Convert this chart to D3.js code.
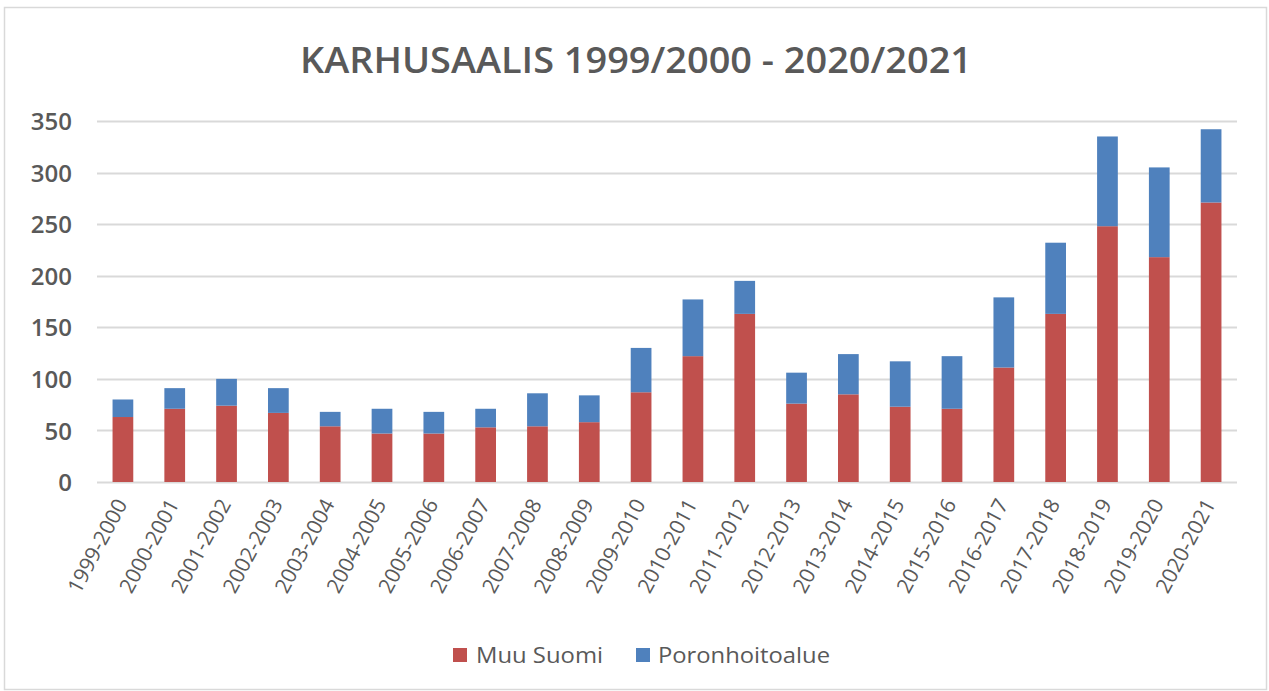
<!DOCTYPE html>
<html>
<head>
<meta charset="utf-8">
<script src="https://cdn.jsdelivr.net/npm/d3@7"></script>
<style>
  html, body { margin: 0; padding: 0; background: #ffffff; }
  svg { display: block; }
</style>
</head>
<body>
<svg id="chart" width="1269" height="691"></svg>
<script>
// ---- data ----
const categories = ["1999-2000","2000-2001","2001-2002","2002-2003","2003-2004","2004-2005","2005-2006","2006-2007","2007-2008","2008-2009","2009-2010","2010-2011","2011-2012","2012-2013","2013-2014","2014-2015","2015-2016","2016-2017","2017-2018","2018-2019","2019-2020","2020-2021"];
const muuSuomi      = [63, 71, 74, 67, 54, 47, 47, 53, 54, 58, 87, 122, 163, 76, 85, 73, 71, 111, 163, 248, 218, 271];
const poronhoitoalue = [17, 20, 26, 24, 14, 24, 21, 18, 32, 26, 43, 55, 32, 30, 39, 44, 51, 68, 69, 87, 87, 71];
const seriesNames = ["Muu Suomi", "Poronhoitoalue"];
const seriesColors = ["#C0504D", "#4F81BD"];
const yTicks = [0, 50, 100, 150, 200, 250, 300, 350];
const titleText = "KARHUSAALIS 1999/2000 - 2020/2021";

// ---- layout ----
const svg = d3.select("#chart");
const plot = { left: 97, right: 1237, top: 121, bottom: 482 };
const textColor = "#595959";
const font = "'Open Sans', 'Liberation Sans', Arial, sans-serif";

// border
svg.append("rect")
  .attr("x", 4.5).attr("y", 7.5).attr("width", 1262).attr("height", 682)
  .attr("fill", "#ffffff").attr("stroke", "#d9d9d9").attr("stroke-width", 1.5);

// title
svg.append("text")
  .attr("x", 636).attr("y", 73)
  .attr("text-anchor", "middle")
  .attr("font-family", font).attr("font-size", 36).attr("font-weight", 600)
  .attr("fill", textColor)
  .attr("textLength", 672).attr("lengthAdjust", "spacingAndGlyphs")
  .text(titleText);

// scales
const x = d3.scaleBand().domain(categories)
  .range([plot.left, plot.right]).paddingInner(0.6).paddingOuter(0.3);
const y = d3.scaleLinear().domain([0, 350]).range([plot.bottom, plot.top]);

// gridlines
svg.append("g").selectAll("line").data(yTicks).join("line")
  .attr("x1", plot.left).attr("x2", plot.right)
  .attr("y1", d => Math.round(y(d)) + 0.5).attr("y2", d => Math.round(y(d)) + 0.5)
  .attr("stroke", "#d9d9d9").attr("stroke-width", 2);

// y axis labels
const yAxis = d3.axisLeft(y).tickValues(yTicks).tickSize(0).tickPadding(0);
const yg = svg.append("g").attr("transform", `translate(72,0)`).call(yAxis);
yg.select(".domain").remove();
yg.selectAll("text")
  .attr("font-family", font).attr("font-size", 24).attr("font-weight", 600)
  .attr("fill", textColor).attr("dy", "0.36em");

// stacked bars
const table = categories.map((c, i) => ({ cat: c, [seriesNames[0]]: muuSuomi[i], [seriesNames[1]]: poronhoitoalue[i] }));
const stacked = d3.stack().keys(seriesNames)(table);
svg.append("g").selectAll("g").data(stacked).join("g")
  .attr("fill", (d, i) => seriesColors[i])
  .selectAll("rect").data(d => d).join("rect")
  .attr("x", d => x(d.data.cat))
  .attr("width", x.bandwidth())
  .attr("y", d => y(d[1]))
  .attr("height", d => y(d[0]) - y(d[1]));

// x axis labels
const xAxis = d3.axisBottom(x).tickSize(0).tickPadding(0);
const xg = svg.append("g").attr("transform", `translate(0,${plot.bottom})`).call(xAxis);
xg.select(".domain").remove();
xg.selectAll("text")
  .attr("font-family", font).attr("font-size", 21)
  .attr("fill", textColor)
  .attr("text-anchor", "end")
  .attr("dy", null).attr("y", null)
  .attr("transform", "translate(5,22) rotate(-62)");

// legend
const legendItems = [
  { name: seriesNames[0], color: seriesColors[0], sx: 453, tx: 476, w: 127 },
  { name: seriesNames[1], color: seriesColors[1], sx: 636, tx: 658, w: 172 }
];
const lg = svg.append("g");
lg.selectAll("rect").data(legendItems).join("rect")
  .attr("x", d => d.sx).attr("y", 648).attr("width", 14).attr("height", 14)
  .attr("fill", d => d.color);
lg.selectAll("text").data(legendItems).join("text")
  .attr("x", d => d.tx).attr("y", 663)
  .attr("font-family", font).attr("font-size", 22)
  .attr("fill", textColor)
  .attr("textLength", d => d.w).attr("lengthAdjust", "spacingAndGlyphs")
  .text(d => d.name);
</script>
</body>
</html>
